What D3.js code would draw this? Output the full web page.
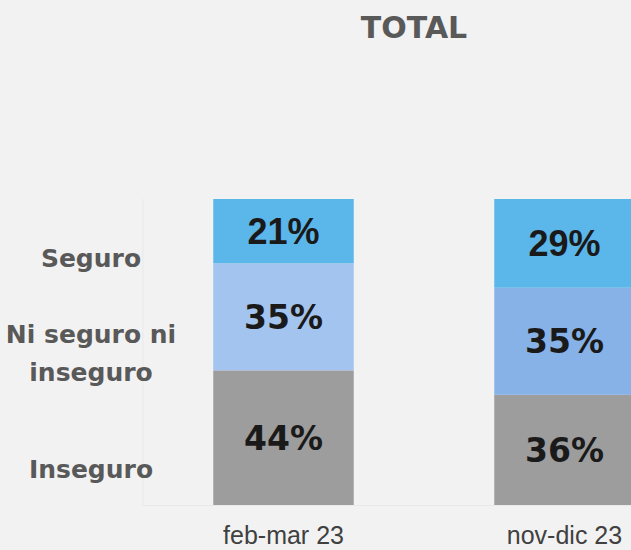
<!DOCTYPE html>
<html>
<head>
<meta charset="utf-8">
<script src="https://cdn.jsdelivr.net/npm/d3@7"></script>
<style>
  body { margin: 0; background: #f2f2f2; }
  svg { display: block; }
</style>
</head>
<body>
<div id="chart"></div>
<script>
const periods = ['feb-mar 23', 'nov-dic 23'];
const seriesNames = ['Inseguro', 'Ni seguro ni inseguro', 'Seguro'];
const inseguro = [44, 36];
const niSeguro = [35, 35];
const seguro = [21, 29];

const width = 631, height = 550;
const rowFont = 'DejaVu Sans, sans-serif';

const svg = d3.select('#chart').append('svg')
    .attr('width', width)
    .attr('height', height);

svg.append('rect').attr('width', width).attr('height', height).attr('fill', '#f2f2f2');

// titulo
svg.append('text')
    .attr('x', 414).attr('y', 38)
    .attr('text-anchor', 'middle')
    .attr('font-family', rowFont)
    .attr('font-weight', 'bold')
    .attr('font-size', 30)
    .attr('fill', '#595959')
    .text('TOTAL');

const x = d3.scaleBand().domain(periods).range([143, 705]).paddingInner(0.5).paddingOuter(0.25);
const y = d3.scaleLinear().domain([0, 100]).range([505, 199]);

// lineas tenues del area
svg.append('line').attr('x1', 143).attr('x2', 143).attr('y1', 199).attr('y2', 505)
    .attr('stroke', '#e9e9e9');
svg.append('line').attr('x1', 143).attr('x2', width).attr('y1', 505.5).attr('y2', 505.5)
    .attr('stroke', '#e9e9e9');

const table = periods.map((p, i) => ({period: p, Inseguro: inseguro[i], 'Ni seguro ni inseguro': niSeguro[i], Seguro: seguro[i]}));
const stacked = d3.stack().keys(seriesNames)(table);

const colors = {
  'Inseguro': ['#9d9d9d', '#9d9d9d'],
  'Ni seguro ni inseguro': ['#a3c4ee', '#87b2e8'],
  'Seguro': ['#5bb6e9', '#5bb6e9']
};

const layers = svg.selectAll('g.layer')
    .data(stacked)
    .join('g')
    .attr('class', 'layer');

layers.selectAll('rect')
    .data(d => d.map(v => ({key: d.key, v})))
    .join('rect')
    .attr('x', d => x(d.v.data.period))
    .attr('width', x.bandwidth())
    .attr('y', d => y(d.v[1]))
    .attr('height', d => y(d.v[0]) - y(d.v[1]))
    .attr('fill', (d, i) => colors[d.key][i]);

layers.selectAll('text')
    .data(d => d.map(v => ({key: d.key, v})))
    .join('text')
    .attr('x', d => x(d.v.data.period) + x.bandwidth() / 2)
    .attr('y', d => (y(d.v[0]) + y(d.v[1])) / 2)
    .attr('dy', '0.36em')
    .attr('text-anchor', 'middle')
    .attr('font-family', d => d.key === 'Seguro' ? 'Liberation Sans, Arial, sans-serif' : rowFont)
    .attr('font-weight', 'bold')
    .attr('font-size', d => d.key === 'Seguro' ? 36 : 33)
    .attr('fill', '#1a1a1a')
    .text(d => (d.v[1] - d.v[0]) + '%');

// etiquetas de categoria
svg.selectAll('text.period')
    .data(periods)
    .join('text')
    .attr('class', 'period')
    .attr('x', d => x(d) + x.bandwidth() / 2)
    .attr('y', 544)
    .attr('text-anchor', 'middle')
    .attr('font-family', 'Liberation Sans, Arial, sans-serif')
    .attr('font-size', 25)
    .attr('fill', '#404040')
    .text(d => d);

// etiquetas de serie a la izquierda
const rowLabels = [
  {lines: ['Inseguro'], y: 478},
  {lines: ['Ni seguro ni', 'inseguro'], y: 343},
  {lines: ['Seguro'], y: 267}
];
rowLabels.forEach(r => {
  const t = svg.append('text')
      .attr('x', 91).attr('y', r.y)
      .attr('text-anchor', 'middle')
      .attr('font-family', rowFont)
      .attr('font-weight', 'bold')
      .attr('font-size', 25)
      .attr('fill', '#595959');
  r.lines.forEach((l, i) => {
    t.append('tspan').attr('x', 91).attr('dy', i === 0 ? 0 : 38).text(l);
  });
});
</script>
</body>
</html>
